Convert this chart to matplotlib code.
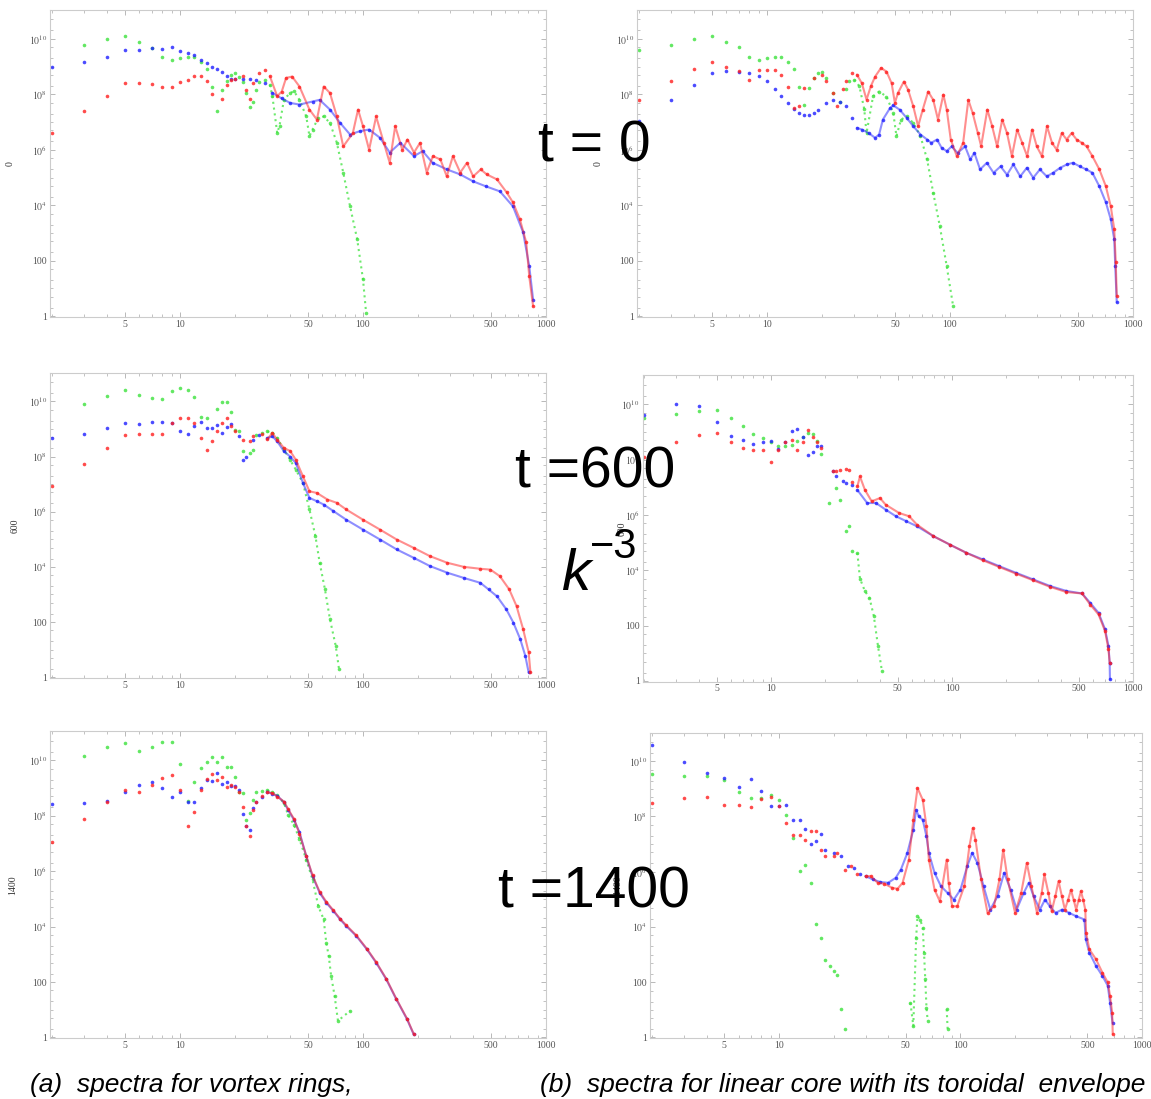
import numpy as np
import matplotlib
matplotlib.use("Agg")
import matplotlib.pyplot as plt
from matplotlib.ticker import FixedLocator, FixedFormatter, NullFormatter

# ---- data: wavenumber k and log10 of the spectrum ----
# (a) vortex rings, t = 0
K_A0_G = [3, 4, 5, 6, 7, 8, 9, 10, 11, 12, 13, 14, 15, 16, 17, 18, 19, 20, 21, 22, 23, 24, 25, 26, 27,
          29, 31, 32, 34, 35, 37, 40, 42, 45, 49, 51, 53, 57, 61, 66, 72, 78, 85, 93, 100, 104]
L_A0_G = [9.76, 9.99, 10.12, 9.87, 9.66, 9.36, 9.22, 9.3, 9.34, 9.36, 9.18, 8.91, 8.26, 7.39, 8.17, 8.47,
          8.71, 8.77, 8.63, 8.43, 8.05, 7.54, 7.74, 8.17, 8.43, 8.5, 8.35, 7.93, 6.6, 6.87, 7.81, 8.05,
          8.11, 7.8, 7.2, 6.49, 6.73, 7.15, 7.2, 6.97, 6.25, 5.18, 3.96, 2.77, 1.33, 0.13]
K_A0_B = [2, 3, 4, 5, 6, 7, 8, 9, 10, 11, 12, 13, 14, 15, 16, 17, 18, 19, 20, 22, 24, 26, 29, 32, 36,
          40, 45, 53, 58, 66, 75, 85, 96, 108, 124, 140, 160, 190, 212, 240, 288, 340, 400, 470, 560,
          660, 750, 810, 850]
L_A0_B = [8.97, 9.15, 9.36, 9.6, 9.58, 9.66, 9.63, 9.69, 9.57, 9.48, 9.4, 9.24, 9.12, 9.0, 8.91, 8.82,
          8.67, 8.55, 8.55, 8.55, 8.55, 8.5, 8.4, 8.05, 7.85, 7.69, 7.63, 7.74, 7.8, 7.45, 6.97, 6.55,
          6.67, 6.73, 6.43, 5.9, 6.25, 5.77, 5.95, 5.53, 5.29, 5.11, 4.86, 4.68, 4.5, 3.96, 3.02, 1.8, 0.6]
K_A0_R = [2, 3, 4, 5, 6, 7, 8, 9, 10, 11, 12, 13, 14, 15, 17, 18, 19, 20, 22, 23, 24, 25, 27, 29, 31,
          34, 36, 38, 41, 45, 51, 56, 61, 66, 72, 78, 88, 94, 100, 108, 118, 130, 140, 150, 164, 175,
          190, 205, 223, 241, 265, 287, 310, 340, 370, 400, 440, 475, 540, 610, 660, 720, 780, 810, 850]
L_A0_R = [6.6, 7.39, 7.93, 8.4, 8.4, 8.38, 8.26, 8.26, 8.43, 8.5, 8.67, 8.65, 8.47, 8.02, 7.83, 8.35,
          8.53, 8.55, 8.67, 8.17, 7.83, 8.4, 8.77, 8.86, 8.65, 7.93, 8.1, 8.59, 8.64, 8.28, 7.45, 7.09,
          8.28, 8.05, 7.2, 6.12, 6.6, 7.45, 6.85, 6.0, 7.2, 6.25, 5.53, 6.85, 6.0, 6.37, 5.9, 6.25, 5.18,
          5.77, 5.65, 5.04, 5.77, 5.18, 5.53, 5.04, 5.29, 5.11, 4.93, 4.46, 4.1, 3.49, 2.66, 1.44, 0.36]

# (b) linear core + toroidal envelope, t = 0
K_B0_G = [2, 3, 4, 5, 6, 7, 8, 9, 10, 11, 12, 13, 14, 15, 16, 17, 18, 19, 20, 21, 23, 25, 27, 28, 30,
          32, 34, 35, 38, 41, 45, 49, 51, 54, 58, 63, 69, 75, 81, 88, 96, 104]
L_B0_G = [9.6, 9.76, 9.99, 10.12, 9.87, 9.69, 9.36, 9.22, 9.3, 9.34, 9.34, 9.18, 8.91, 8.26, 7.6, 8.23,
          8.58, 8.77, 8.79, 8.58, 8.05, 7.74, 8.19, 8.47, 8.53, 8.29, 7.47, 6.6, 7.93, 8.1, 7.92, 7.33,
          6.49, 7.09, 7.2, 6.97, 6.49, 5.65, 4.45, 3.25, 1.8, 0.37]
K_B0_B = [2, 3, 4, 5, 6, 7, 8, 9, 10, 11, 12, 13, 14, 15, 16, 17, 18, 19, 21, 23, 25, 27, 29, 31, 33,
          36, 39, 41, 43, 47, 49, 53, 58, 63, 69, 75, 79, 85, 90, 96, 102, 110, 121, 129, 136, 146, 159,
          173, 189, 205, 222, 242, 263, 285, 310, 338, 366, 400, 435, 470, 512, 556, 600, 655, 711, 756,
          790, 800, 815]
L_B0_B = [7.03, 7.78, 8.35, 8.77, 8.83, 8.79, 8.77, 8.67, 8.47, 8.19, 7.93, 7.69, 7.47, 7.33, 7.27, 7.27,
          7.33, 7.45, 7.69, 7.78, 7.74, 7.57, 7.15, 6.79, 6.73, 6.6, 6.43, 6.55, 7.09, 7.5, 7.6, 7.45,
          7.15, 6.85, 6.55, 6.37, 6.25, 6.37, 6.07, 5.95, 6.12, 5.89, 6.12, 5.65, 5.89, 5.29, 5.53, 5.17,
          5.4, 5.1, 5.47, 5.04, 5.35, 4.99, 5.29, 5.04, 5.17, 5.35, 5.47, 5.53, 5.4, 5.29, 5.17, 4.68,
          4.1, 3.49, 2.77, 1.8, 0.5]
K_B0_R = [2, 3, 4, 5, 6, 7, 8, 9, 10, 11, 12, 13, 14, 15, 16, 18, 20, 21, 23, 24, 26, 27, 29, 31, 33,
          35, 37, 39, 42, 45, 48, 50, 52, 56, 59, 63, 67, 71, 76, 81, 86, 92, 96, 101, 109, 118, 126,
          133, 142, 148, 160, 170, 181, 193, 205, 218, 233, 248, 264, 281, 298, 318, 339, 361, 383, 408,
          434, 462, 492, 525, 558, 600, 655, 711, 756, 790, 805, 815]
L_B0_R = [7.78, 8.49, 8.92, 9.18, 9.0, 8.83, 8.53, 8.86, 8.89, 8.86, 8.71, 8.26, 7.5, 7.57, 8.23, 8.58,
          8.71, 8.47, 8.05, 7.57, 8.19, 8.47, 8.77, 8.71, 8.4, 7.81, 8.3, 8.64, 8.95, 8.82, 8.4, 7.69,
          8.05, 8.46, 8.17, 7.57, 6.85, 7.45, 8.1, 7.8, 7.09, 7.99, 7.45, 6.37, 5.77, 6.25, 7.8, 7.33,
          6.6, 6.13, 7.45, 6.85, 6.12, 7.09, 6.6, 5.77, 6.73, 6.25, 5.77, 6.73, 6.12, 5.77, 6.85, 6.25,
          6.0, 6.6, 6.37, 6.6, 6.37, 6.25, 6.12, 5.77, 5.29, 4.68, 3.96, 3.13, 1.94, 0.72]

# (a) t = 600
K_A600_G = [3, 4, 5, 6, 7, 8, 9, 10, 11, 12, 13, 14, 16, 17, 18, 19, 20, 21, 22, 24, 25, 26, 28, 30,
            32, 34, 37, 40, 43, 47, 51, 55, 58, 62, 66, 71, 74]
L_A600_G = [9.91, 10.2, 10.42, 10.24, 10.11, 10.08, 10.39, 10.48, 10.42, 10.15, 9.45, 9.39, 9.72, 9.97,
            9.99, 9.63, 8.97, 8.91, 8.19, 8.13, 8.25, 8.79, 8.87, 8.91, 8.87, 8.67, 8.25, 7.88, 7.52,
            7.04, 6.08, 5.11, 4.15, 3.18, 2.1, 1.13, 0.29]
K_A600_B = [2, 3, 4, 5, 6, 7, 8, 9, 10, 11, 12, 13, 14, 15, 16, 17, 18, 19, 21, 22, 23, 25, 27, 30,
            32, 34, 37, 40, 43, 47, 51, 56, 61, 69, 81, 100, 124, 153, 189, 232, 288, 355, 438, 486,
            540, 607, 663, 724, 771, 804]
L_A600_B = [8.69, 8.81, 9.03, 9.21, 9.19, 9.25, 9.27, 9.23, 8.93, 8.82, 9.11, 9.25, 9.03, 9.03, 9.15,
            8.87, 9.07, 9.19, 8.75, 7.88, 7.98, 8.61, 8.79, 8.67, 8.73, 8.55, 8.19, 8.0, 7.76, 7.04,
            6.5, 6.38, 6.26, 6.02, 5.71, 5.35, 4.99, 4.63, 4.33, 4.03, 3.79, 3.6, 3.42, 3.18, 2.93,
            2.46, 1.98, 1.37, 0.77, 0.17]
K_A600_R = [2, 3, 4, 5, 6, 7, 8, 9, 10, 11, 12, 13, 14, 15, 16, 17, 18, 19, 20, 22, 24, 25, 28, 30,
            32, 34, 37, 40, 43, 47, 51, 56, 64, 72, 81, 100, 124, 153, 189, 232, 288, 355, 438, 497,
            560, 630, 690, 750, 804, 822]
L_A600_R = [6.92, 7.73, 8.31, 8.79, 8.81, 8.82, 8.82, 9.21, 9.39, 9.39, 9.23, 8.67, 8.25, 8.55, 8.91,
            9.21, 9.39, 9.09, 8.91, 8.61, 8.55, 8.73, 8.82, 8.63, 8.85, 8.61, 8.31, 8.2, 7.88, 7.28,
            6.74, 6.68, 6.44, 6.32, 6.08, 5.71, 5.35, 4.99, 4.69, 4.39, 4.15, 4.0, 3.93, 3.9, 3.66,
            3.18, 2.58, 1.74, 0.9, 0.18]

# (b) t = 600
K_B600_G = [2, 3, 4, 5, 6, 7, 8, 9, 10, 11, 12, 13, 14, 15, 16, 17, 18, 19, 21, 23, 24, 26, 27, 28,
            30, 31, 33, 35, 37, 39, 41]
L_B600_G = [9.52, 9.65, 9.77, 9.8, 9.5, 9.22, 8.93, 8.77, 8.62, 8.5, 8.5, 8.53, 8.69, 8.83, 8.95, 8.93,
            8.69, 8.21, 6.43, 6.97, 6.55, 5.41, 5.59, 4.69, 4.63, 3.7, 3.25, 3.0, 2.34, 1.26, 0.36]
K_B600_B = [2, 3, 4, 5, 6, 7, 8, 9, 10, 11, 12, 13, 14, 15, 16, 17, 18, 19, 22, 23, 25, 26, 28, 30,
            34, 38, 43, 49, 56, 64, 79, 97, 120, 148, 182, 225, 280, 348, 429, 523, 580, 645, 701, 732,
            743, 746]
L_B600_B = [9.62, 10.01, 9.95, 9.35, 8.86, 8.71, 8.57, 8.62, 8.69, 8.38, 8.65, 9.05, 9.11, 8.83, 8.17,
            8.29, 8.5, 8.5, 7.57, 7.39, 7.21, 7.15, 7.09, 6.9, 6.43, 6.43, 6.19, 5.95, 5.77, 5.59, 5.23,
            4.93, 4.63, 4.39, 4.15, 3.91, 3.67, 3.43, 3.25, 3.16, 2.82, 2.46, 1.86, 1.26, 0.66, 0.05]
K_B600_R = [2, 3, 4, 5, 6, 7, 8, 9, 10, 11, 12, 13, 14, 15, 16, 17, 18, 19, 22, 23, 24, 26, 27, 28,
            30, 31, 33, 36, 40, 43, 51, 58, 64, 79, 97, 120, 148, 182, 225, 280, 348, 429, 523, 580,
            645, 701, 732, 743]
L_B600_R = [8.09, 8.65, 8.89, 8.95, 8.65, 8.41, 8.35, 8.33, 7.93, 8.33, 8.62, 8.71, 8.35, 8.65, 9.07,
            8.83, 8.65, 8.41, 7.57, 7.57, 7.63, 7.66, 7.63, 7.18, 7.03, 7.39, 6.91, 6.49, 6.61, 6.37,
            6.07, 5.95, 5.65, 5.23, 4.93, 4.63, 4.36, 4.12, 3.88, 3.64, 3.4, 3.21, 3.16, 2.76, 2.4, 1.8,
            1.14, 0.66]

# (a) t = 1400
K_A1400_G = [3, 4, 5, 6, 7, 8, 9, 10, 11, 12, 13, 14, 15, 16, 17, 18, 19, 20, 21, 22, 23, 24, 25, 26,
             28, 30, 32, 34, 37, 39, 42, 45, 49, 53, 57, 61, 63, 65, 67, 70, 73, 85]
L_A1400_G = [10.16, 10.47, 10.61, 10.34, 10.49, 10.67, 10.64, 9.86, 8.54, 9.2, 9.71, 9.95, 10.13, 9.95,
             10.13, 9.77, 9.77, 9.41, 8.87, 8.81, 7.85, 8.09, 8.57, 8.84, 8.9, 8.91, 8.84, 8.75, 8.45,
             8.03, 7.67, 7.15, 6.41, 5.7, 4.74, 4.26, 3.42, 2.94, 2.22, 1.5, 0.6, 0.96]
K_A1400_B = [2, 3, 4, 5, 6, 7, 8, 9, 10, 11, 12, 13, 14, 15, 16, 17, 18, 19, 20, 21, 22, 23, 24, 25,
             26, 28, 30, 32, 34, 37, 39, 42, 45, 49, 53, 58, 63, 69, 75, 81, 92, 105, 118, 134, 152,
             174, 189]
L_A1400_B = [8.42, 8.45, 8.54, 8.87, 9.11, 9.23, 8.99, 8.69, 8.84, 8.48, 8.48, 8.99, 9.29, 9.26, 9.53,
             9.15, 9.23, 9.08, 9.08, 8.91, 8.07, 7.64, 7.49, 8.27, 8.51, 8.67, 8.87, 8.79, 8.72, 8.48,
             8.21, 7.85, 7.4, 6.53, 5.82, 5.22, 4.86, 4.56, 4.26, 4.02, 3.66, 3.18, 2.7, 2.1, 1.38,
             0.66, 0.12]
K_A1400_R = K_A1400_B
L_A1400_R = [7.04, 7.89, 8.48, 8.91, 8.84, 9.09, 9.35, 9.47, 8.93, 7.61, 8.12, 8.93, 9.32, 9.5, 9.29,
             9.39, 9.05, 9.11, 9.05, 8.87, 8.33, 7.61, 7.25, 8.21, 8.51, 8.72, 8.84, 8.81, 8.69, 8.51,
             8.24, 7.88, 7.35, 6.55, 5.85, 5.25, 4.9, 4.58, 4.28, 4.05, 3.68, 3.2, 2.72, 2.12, 1.4,
             0.68, 0.14]

# (b) t = 1400
K_B1400_G = [2, 3, 4, 5, 6, 7, 8, 9, 10, 11, 12, 13, 14, 15, 16, 17, 18, 19, 20, 21, 22, 23,
             53, 55, 57, 58, 60, 62, 63, 64, 65, 66, 84, 85]
L_B1400_G = [9.53, 9.47, 9.45, 9.33, 8.87, 8.66, 8.66, 8.78, 8.6, 8.06, 7.22, 6.02, 6.26, 5.6, 4.09,
             3.61, 2.8, 2.59, 2.41, 2.25, 1.02, 0.32,
             1.26, 0.42, 3.61, 4.39, 4.27, 3.97, 3.07, 2.11, 1.08, 0.6, 1.02, 0.3]
K_B1400_B = [2, 3, 4, 5, 6, 7, 8, 9, 10, 11, 12, 13, 14, 15, 16, 17, 18, 20, 22, 24, 26, 28, 30, 33,
             36, 40, 44, 47, 51, 55, 57, 59, 62, 65, 67, 72, 78, 85, 92, 100, 109, 116, 124, 134, 146,
             160, 174, 189, 204, 223, 238, 253, 274, 292, 311, 334, 363, 397, 434, 482, 490, 513, 558,
             605, 648, 667, 688]
L_B1400_B = [10.59, 9.96, 9.59, 9.41, 9.06, 9.35, 8.93, 8.39, 8.39, 8.42, 7.86, 7.86, 7.55, 7.02, 7.1,
             7.38, 6.8, 6.68, 6.56, 6.2, 6.14, 5.9, 5.84, 5.72, 5.63, 5.6, 5.78, 6.08, 6.68, 7.52, 8.24,
             8.0, 7.88, 7.28, 6.68, 5.96, 5.48, 5.23, 4.99, 5.35, 6.2, 6.68, 6.32, 5.48, 4.63, 5.11,
             5.96, 5.35, 4.63, 5.23, 5.6, 5.11, 4.63, 4.99, 4.75, 4.51, 4.63, 4.51, 4.39, 4.27, 3.55,
             3.07, 2.59, 2.23, 1.87, 1.26, 0.54]
K_B1400_R = [2, 3, 4, 5, 6, 7, 8, 9, 10, 11, 12, 13, 14, 15, 16, 17, 18, 20, 21, 23, 25, 27, 30, 32,
             35, 38, 42, 45, 48, 52, 55, 58, 62, 65, 67, 72, 77, 84, 86, 90, 96, 105, 112, 117, 121,
             130, 141, 153, 164, 172, 182, 200, 216, 232, 246, 264, 280, 290, 305, 318, 333, 347, 362,
             376, 392, 406, 420, 434, 448, 461, 474, 487, 492, 513, 558, 605, 648, 667, 685, 690]
L_B1400_R = [8.48, 8.66, 8.72, 8.42, 8.42, 8.34, 8.63, 8.72, 8.39, 7.76, 7.34, 7.34, 7.16, 7.46, 7.46,
             6.8, 6.58, 6.56, 6.68, 6.08, 6.2, 5.9, 5.84, 5.84, 5.6, 5.57, 5.42, 5.38, 5.6, 6.44, 7.88,
             9.03, 8.6, 7.64, 6.44, 5.35, 4.93, 6.44, 5.6, 4.75, 4.75, 5.48, 6.92, 7.58, 7.16, 5.72,
             4.51, 4.75, 5.72, 6.8, 5.72, 4.51, 5.23, 6.32, 5.48, 4.51, 5.23, 5.9, 5.23, 4.57, 5.11,
             5.66, 5.11, 4.63, 4.99, 5.35, 4.99, 4.63, 4.99, 5.29, 4.99, 4.63, 3.79, 3.19, 2.83, 2.35,
             1.99, 1.5, 0.9, 0.12]

TIME_LABELS = ["0", "600", "1400"]
Y_TICK_EXP = [0, 2, 4, 6, 8, 10]
Y_TICK_TEXT = ["1", "100", r"$10^{4}$", r"$10^{6}$", r"$10^{8}$", r"$10^{10}$"]
X_TICKS = [5, 10, 50, 100, 500, 1000]
CAPTION_A = "(a)  spectra for vortex rings,"
CAPTION_B = "(b)  spectra for linear core with its toroidal  envelope"

W, H = 1151, 1099
RED, BLUE, GREEN = "#ff1e1e", "#1e1eff", "#3ce23c"

plt.rcParams["mathtext.fontset"] = "stix"


def rect(left, top, right, bottom):
    return [left / W, 1 - bottom / H, (right - left) / W, (bottom - top) / H]


def chain(k, e, kmin=30, ratio=1.25):
    """Join neighbouring points in the dense (high-k) part; gaps become NaN."""
    xs, ys = [], []
    for i in range(len(k) - 1):
        if k[i] >= kmin and k[i + 1] / k[i] <= ratio:
            if not xs or xs[-1] != k[i]:
                xs += [np.nan, k[i]]
                ys += [np.nan, e[i]]
            xs.append(k[i + 1])
            ys.append(e[i + 1])
    return np.array(xs, dtype=float), np.array(ys, dtype=float)


def draw(ax, k, logE, color, dotted=False):
    k = np.asarray(k, dtype=float)
    e = 10.0 ** np.asarray(logE, dtype=float)
    assert len(k) == len(e)
    xs, ys = chain(k, e)
    if dotted:
        ax.plot(xs, ys, color=color, lw=1.5, ls=(0, (1, 1.8)), alpha=0.75)
    else:
        ax.plot(xs, ys, color=color, lw=1.5, alpha=0.5, solid_capstyle="round")
    ax.plot(k, e, "o", ms=2.6, mew=0, color=color, alpha=0.8)


def style(ax, ylabel, label_x):
    ax.set_xscale("log")
    ax.set_yscale("log")
    ax.set_xlim(1.95, 1000)
    ax.set_ylim(10 ** -0.03, 10 ** 11.04)
    ax.xaxis.set_major_locator(FixedLocator(X_TICKS))
    ax.xaxis.set_major_formatter(FixedFormatter([str(v) for v in X_TICKS]))
    minor_x = [m * 10 ** d for d in range(0, 3) for m in range(2, 10)]
    ax.xaxis.set_minor_locator(FixedLocator([v for v in minor_x if v not in X_TICKS]))
    ax.xaxis.set_minor_formatter(NullFormatter())
    ax.yaxis.set_major_locator(FixedLocator([10.0 ** p for p in Y_TICK_EXP]))
    ax.yaxis.set_major_formatter(FixedFormatter(Y_TICK_TEXT))
    minor_y = [m * 10.0 ** d for d in range(0, 11) for m in (1, 2, 5)]
    ax.yaxis.set_minor_locator(FixedLocator([v for v in minor_y
                                             if not any(np.isclose(v, 10.0 ** p) for p in Y_TICK_EXP)]))
    ax.yaxis.set_minor_formatter(NullFormatter())
    ax.tick_params(which="both", direction="in", top=True, right=True, color="#b8b8b8",
                   labelcolor="#555555", labelsize=7, pad=2)
    ax.tick_params(which="major", length=3.5, width=0.7)
    ax.tick_params(which="minor", length=2, width=0.6)
    for lab in ax.get_xticklabels() + ax.get_yticklabels():
        lab.set_family("Liberation Serif")
    for sp in ax.spines.values():
        sp.set_color("#cccccc")
        sp.set_linewidth(0.8)
    ax.set_ylabel(ylabel, fontsize=7, family="Liberation Serif", color="#333333")
    ax.yaxis.set_label_coords(label_x, 0.5)


fig = plt.figure(figsize=(W / 100, H / 100), dpi=100)

panels = [
    (rect(50, 10, 546, 317), TIME_LABELS[0], -0.072,
     [(K_A0_G, L_A0_G, GREEN), (K_A0_B, L_A0_B, BLUE), (K_A0_R, L_A0_R, RED)]),
    (rect(637, 10, 1133, 317), TIME_LABELS[0], -0.069,
     [(K_B0_G, L_B0_G, GREEN), (K_B0_B, L_B0_B, BLUE), (K_B0_R, L_B0_R, RED)]),
    (rect(50, 372.7, 546, 678), TIME_LABELS[1], -0.062,
     [(K_A600_G, L_A600_G, GREEN), (K_A600_B, L_A600_B, BLUE), (K_A600_R, L_A600_R, RED)]),
    (rect(642.5, 375.5, 1133, 681.7), TIME_LABELS[1], -0.032,
     [(K_B600_G, L_B600_G, GREEN), (K_B600_B, L_B600_B, BLUE), (K_B600_R, L_B600_R, RED)]),
    (rect(50, 731.4, 546, 1038.3), TIME_LABELS[2], -0.066,
     [(K_A1400_G, L_A1400_G, GREEN), (K_A1400_B, L_A1400_B, BLUE), (K_A1400_R, L_A1400_R, RED)]),
    (rect(650, 732.5, 1142, 1038.3), TIME_LABELS[2], -0.057,
     [(K_B1400_G, L_B1400_G, GREEN), (K_B1400_B, L_B1400_B, BLUE), (K_B1400_R, L_B1400_R, RED)]),
]

for pos, ylab, lx, series in panels:
    ax = fig.add_axes(pos)
    for k, logE, col in series:
        draw(ax, k, logE, col, dotted=(col == GREEN))
    style(ax, ylab, lx)

# big annotations laid over the middle column
big = dict(fontsize=41, color="black", family="Liberation Sans", zorder=10,
           ha="left", va="baseline")
fig.text(538 / W, 1 - 162 / H, "t = 0", **big)
fig.text(515 / W, 1 - 488 / H, "t =600", **big)
fig.text(498 / W, 1 - 908 / H, "t =1400", **big)
fig.text(561 / W, 1 - 590 / H, "k", ha="left", va="baseline", fontsize=42,
         style="italic", family="Liberation Sans", zorder=10)
fig.text(590 / W, 1 - 558 / H, "\u22123", ha="left", va="baseline", fontsize=30,
         family="Liberation Sans", zorder=10)

cap = dict(fontsize=19, style="italic", family="Liberation Sans", color="black",
           va="baseline", ha="left")
fig.text(30 / W, 1 - 1092 / H, CAPTION_A, **cap)
fig.text(540 / W, 1 - 1092 / H, CAPTION_B, **cap)

fig.savefig("out.png", dpi=100)
